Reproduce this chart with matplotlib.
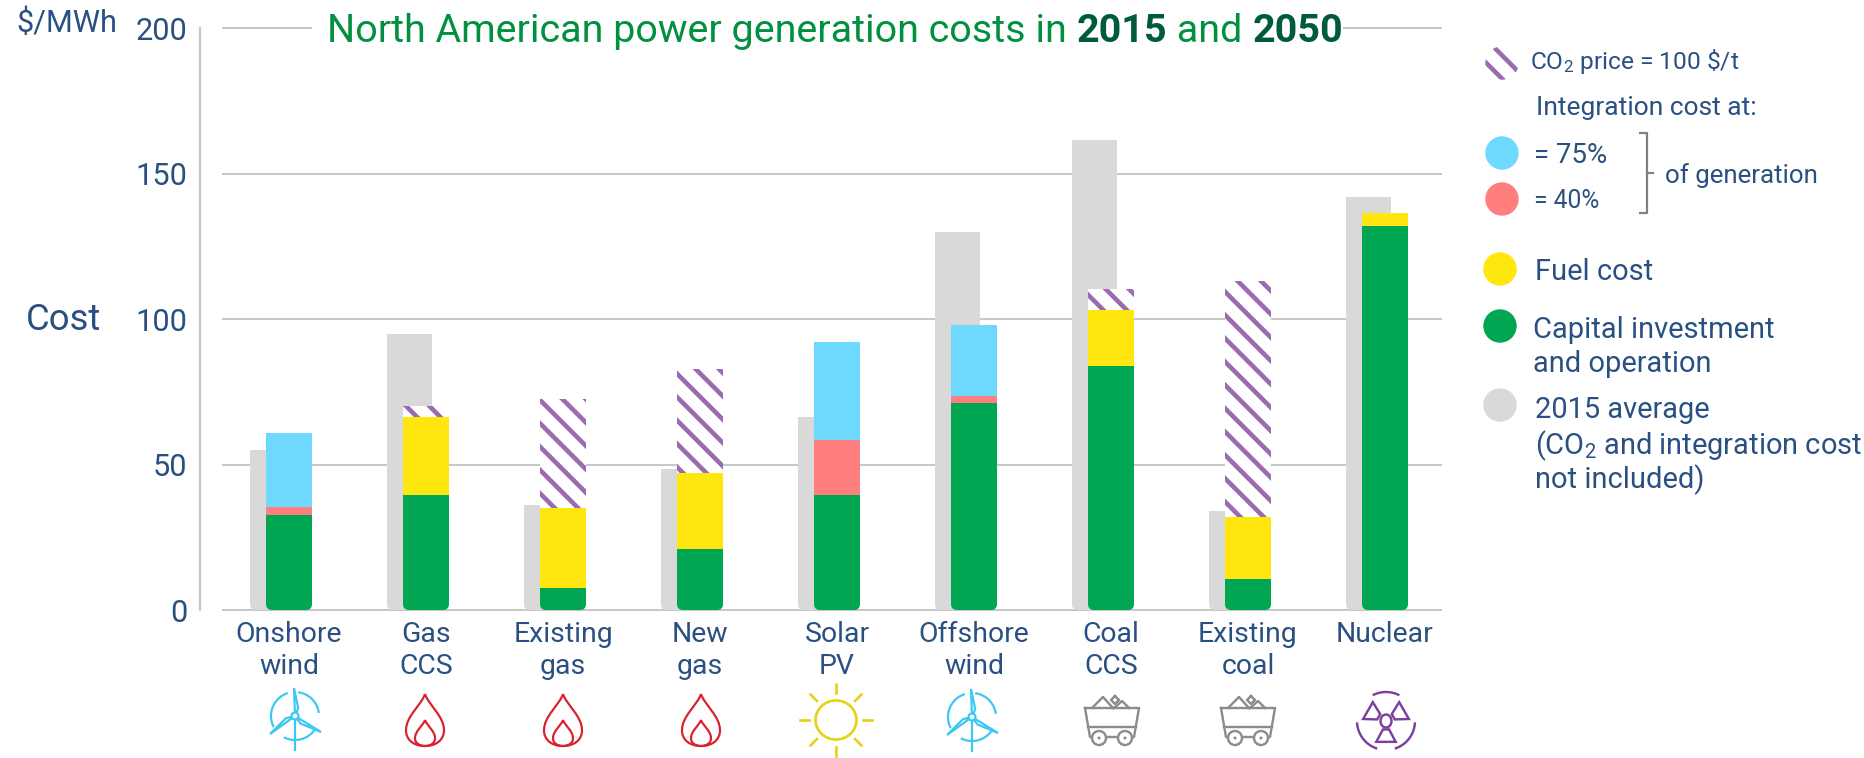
import numpy as np
import matplotlib
matplotlib.use('Agg')
import matplotlib.pyplot as plt
from matplotlib.patches import Circle, Ellipse, FancyBboxPatch, PathPatch, Polygon
from matplotlib.path import Path

# data, $/MWh
categories = ['Onshore\nwind', 'Gas\nCCS', 'Existing\ngas', 'New\ngas', 'Solar\nPV',
              'Offshore\nwind', 'Coal\nCCS', 'Existing\ncoal', 'Nuclear']
capital = [32.5, 39.5, 7.5, 21, 39.5, 71, 84, 10.5, 132]
fuel = [0, 27, 27.5, 26, 0, 0, 19, 21.5, 4.5]
integration_40 = [3, 0, 0, 0, 19, 2.5, 0, 0, 0]
integration_75 = [25.3, 0, 0, 0, 33.5, 24.5, 0, 0, 0]
co2_price = [0, 3.5, 37.5, 36, 0, 0, 7.5, 81, 0]
average_2015 = [55, 95, 36, 48.5, 66.5, 130, 161.5, 34, 142]
y_ticks = [0, 50, 100, 150, 200]

W, H, DPI = 1864, 758, 140
PX = 72 / DPI   # one pixel in points

GREEN = '#00A651'
YELLOW = '#FFE60F'
BLUE = '#6FD8FF'
RED = '#FF7F7F'
GREY = '#D9D9D9'
PURPLE = '#9B6BB0'
TEXT = '#2A5082'
LINE = '#C8C8C8'
STRIPES = '\\\\'

plt.rcParams['font.family'] = ['Roboto', 'DejaVu Sans']
plt.rcParams['mathtext.default'] = 'regular'
plt.rcParams['hatch.linewidth'] = 4.6 * PX

fig = plt.figure(figsize=(W / DPI, H / DPI), dpi=DPI)

# plot area in pixels
LEFT, RIGHT, TOP, BOTTOM = 200, 1442, 28.3, 610
ax = fig.add_axes([LEFT / W, 1 - BOTTOM / H, (RIGHT - LEFT) / W, (BOTTOM - TOP) / H])
STEP = 137
xs = np.arange(len(categories))
ax.set_xlim((LEFT - 289) / STEP, (RIGHT - 289) / STEP)
ax.set_ylim(0, 200)
ax.patch.set_visible(False)
for s in ['top', 'right', 'bottom']:
    ax.spines[s].set_visible(False)
ax.spines['left'].set_color(LINE)
ax.spines['left'].set_linewidth(2.2 * PX)

x_grid = (222 - 289) / STEP
ax.hlines(y_ticks, x_grid, ax.get_xlim()[1], color=LINE, lw=2 * PX, zorder=1, clip_on=False)

ax.set_yticks(y_ticks)
ax.set_xticks(xs)
ax.set_xticklabels(categories, linespacing=1.27)
ax.tick_params(length=0, labelcolor=TEXT, labelsize=14.6)
ax.tick_params(axis='y', pad=6.5, labelsize=15.8)
ax.tick_params(axis='x', pad=5.5)

BAR_W = 46 / STEP
GREY_SHIFT = -16.5 / STEP
Y_PER_PX = 200 / (BOTTOM - TOP)
X_PER_PX = 1 / STEP

# rounded bottom corners: clip every segment of a bar to the same box
def roundBottom(artists, x, w, top):
    box = FancyBboxPatch((x - w / 2, 0), w, top + 30,
                         boxstyle='round,pad=0,rounding_size=' + str(6 * X_PER_PX),
                         mutation_aspect=Y_PER_PX / X_PER_PX, transform=ax.transData)
    for a in artists:
        a.set_clip_path(box)

grey_bars = ax.bar(xs + GREY_SHIFT, average_2015, BAR_W - 1 / STEP, color=GREY, zorder=2)
for i, b in enumerate(grey_bars):
    roundBottom([b], xs[i] + GREY_SHIFT, BAR_W - 1 / STEP, average_2015[i])

bottom = np.zeros(len(categories))
stack = [(capital, GREEN, None), (fuel, YELLOW, None), (integration_40, RED, None),
         (integration_75, BLUE, None), (co2_price, 'white', STRIPES)]
segments = []
for values, color, hatch in stack:
    if hatch:
        bars = ax.bar(xs, values, BAR_W, bottom=bottom, facecolor=color,
                      edgecolor=PURPLE, hatch=hatch, linewidth=0, zorder=3)
    else:
        bars = ax.bar(xs, values, BAR_W, bottom=bottom, color=color, zorder=3)
    segments.append(bars)
    bottom = bottom + np.array(values)
for i in xs:
    roundBottom([bars[i] for bars in segments], xs[i], BAR_W, bottom[i])

# everything else is placed in pixels on an overlay
ov = fig.add_axes([0, 0, 1, 1])
ov.set_xlim(0, W)
ov.set_ylim(H, 0)
ov.axis('off')

def label(x, y, s, size=14.9, **kw):
    kw.setdefault('color', TEXT)
    return ov.text(x, y + 2.5, s, fontsize=size, va='center', ha='left', **kw)

label(16, 21, '$/MWh', size=15.8)
label(26, 318, 'Cost', size=18.8)

# title, green with darker bold years
title_parts = [('North American power generation costs in ', '#009040', 'normal'),
               ('2015', '#005A3C', 'bold'), (' and ', '#009040', 'normal'),
               ('2050', '#005A3C', 'bold')]
prev = None
for s, c, w in title_parts:
    if prev is None:
        prev = ov.text(327, 32, s, color=c, fontweight=w, fontsize=20.3, va='center', ha='left',
                       bbox=dict(fc='white', ec='none', pad=8))
    else:
        prev = ov.annotate(s, xy=(1, 0), xycoords=prev, color=c, fontweight=w, fontsize=20.3,
                           va='bottom', ha='left', bbox=dict(fc='white', ec='none', pad=0))

# legend
R = 16.7
ov.add_patch(Circle((1502, 63), R, facecolor='white', edgecolor=PURPLE, hatch=STRIPES, lw=0))
for cx, cy, col in [(1502, 153, BLUE), (1502, 199, RED), (1500, 269, YELLOW),
                    (1500, 326, GREEN), (1500, 405, GREY)]:
    ov.add_patch(Circle((cx, cy), R, color=col, lw=0))
label(1530, 59, 'CO$_2$ price = 100 \\$/t', size=12.6)
label(1536, 105, 'Integration cost at:', size=13.6)
label(1534, 153, '= 75%', size=14.2)
label(1534, 198, '= 40%', size=12.7)
label(1665, 173, 'of generation', size=13.3)
label(1535, 269, 'Fuel cost')
label(1533, 327, 'Capital investment')
label(1533, 362, 'and operation')
label(1535, 408, '2015 average')
label(1535, 443, '(CO$_2$ and integration cost')
label(1535, 477, 'not included)')
ov.plot([1640, 1647, 1647, 1640], [133, 133, 213, 213], color='#808080', lw=2.2 * PX)
ov.plot([1647, 1653], [173, 173], color='#808080', lw=2.2 * PX)

# icons under the category labels
def arcPoints(cx, cy, r, a0, a1):
    a = np.radians(np.linspace(a0, a1, 30))
    return cx + r * np.cos(a), cy - r * np.sin(a)

def turbine(cx, cy):
    c, lw = '#3CC8F5', 2.2 * PX
    for tip in [(-1, -28), (26, 16), (-25, 18)]:
        t = np.array(tip, float)
        n = np.array([-t[1], t[0]]) / np.hypot(*t)
        base = 0.28 * t
        pts = [(0, 0), base + 3.5 * n, t, (0, 0)]
        ov.add_patch(Polygon(np.array(pts) + (cx, cy), closed=True, fc='white', ec=c, lw=lw))
    ov.add_patch(Circle((cx, cy), 3.5, fc='white', ec=c, lw=lw))
    ov.plot([cx, cx], [cy + 4, cy + 34], color=c, lw=lw)
    for a0, a1 in [(110, 205), (10, 80), (-115, -35)]:
        ov.plot(*arcPoints(cx, cy, 24, a0, a1), color=c, lw=lw)

def flame(cx, cy):
    c, lw = '#D8232F', 2.2 * PX
    for top, half in [(-26, 19), (0, 10)]:
        h = 26 - top
        verts = [(0, top), (half * 0.2, top + 0.22 * h), (half, top + 0.42 * h), (half, top + 0.7 * h),
                 (half, top + 0.88 * h), (half * 0.6, 26), (0, 26),
                 (-half * 0.6, 26), (-half, top + 0.88 * h), (-half, top + 0.7 * h),
                 (-half, top + 0.42 * h), (-half * 0.2, top + 0.22 * h), (0, top)]
        codes = [Path.MOVETO] + [Path.CURVE4] * 12
        ov.add_patch(PathPatch(Path(np.array(verts) + (cx, cy), codes), fc='none', ec=c, lw=lw))

def sun(cx, cy):
    c, lw = '#E6D214', 2.6 * PX
    ov.add_patch(Ellipse((cx, cy), 41, 39, fc='none', ec=c, lw=lw))
    for a in np.radians(np.arange(0, 360, 45)):
        ov.plot([cx + 27 * np.cos(a), cx + 36 * np.cos(a)],
                [cy + 27 * np.sin(a), cy + 36 * np.sin(a)], color=c, lw=lw)

def cart(cx, cy):
    c, lw = '#8C8C8C', 2.4 * PX
    for pts in [[(-20, -12), (-9, -23), (1, -12)], [(2, -12), (10, -19), (17, -12)],
                [(3, -24), (7, -20), (3, -16), (-1, -20), (3, -24)]]:
        ov.plot(*(np.array(pts) + (cx, cy)).T, color=c, lw=lw)
    body = [(-27, -12), (27, -12), (22, 17), (-22, 17), (-27, -12)]
    ov.plot(*(np.array(body) + (cx, cy)).T, color=c, lw=lw)
    ov.plot([cx - 24, cx + 24], [cy + 7, cy + 7], color=c, lw=lw)
    for dx in [-13, 13]:
        ov.add_patch(Circle((cx + dx, cy + 18), 7, fc='white', ec=c, lw=lw, zorder=3))
        ov.add_patch(Circle((cx + dx, cy + 18), 1.5, fc=c, ec=c, lw=0, zorder=3))

def nuclear(cx, cy):
    c, lw = '#7B3F9E', 2.4 * PX
    ov.add_patch(Ellipse((cx, cy), 11, 13, fc='none', ec=c, lw=lw))
    for a in [150, 30, -90]:
        xo, yo = arcPoints(cx, cy, 23, a - 25, a + 25)
        xi, yi = arcPoints(cx, cy, 9, a - 20, a + 20)
        pts = [(xo[0], yo[0]), (xo[-1], yo[-1]), (xi[-1], yi[-1]), (xi[0], yi[0])]
        ov.add_patch(Polygon(pts, closed=True, fc='none', ec=c, lw=lw))
    for a0, a1 in [(65, 115), (185, 250), (-70, -5)]:
        ov.plot(*arcPoints(cx, cy, 29, a0, a1), color=c, lw=lw)

turbine(295, 716)
flame(425, 720)
flame(563, 720)
flame(701, 720)
sun(836, 720)
turbine(972, 717)
cart(1112, 720)
cart(1248, 720)
nuclear(1386, 721)

ov.set_xlim(0, W)
ov.set_ylim(H, 0)
fig.savefig('out.png', dpi=DPI)
